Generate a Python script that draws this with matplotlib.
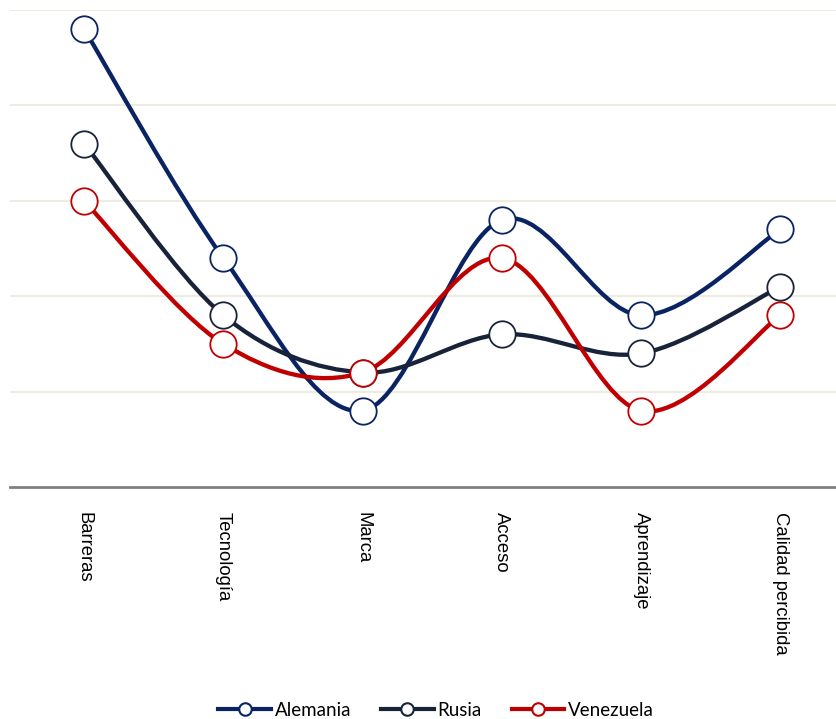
import matplotlib.pyplot as plt
import numpy as np
from matplotlib.path import Path
from matplotlib.patches import PathPatch
from matplotlib.lines import Line2D


# categories on the x axis
categorias = ['Barreras', 'Tecnología', 'Marca', 'Acceso', 'Aprendizaje', 'Calidad percibida']

# scores for each country
alemania = [4.8, 2.4, 0.8, 2.8, 1.8, 2.7]
rusia = [3.6, 1.8, 1.2, 1.6, 1.4, 2.1]
venezuela = [3.0, 1.5, 1.2, 2.4, 0.8, 1.8]

paises = ['Alemania', 'Rusia', 'Venezuela']
colores = ['#0A2463', '#18233A', '#C00000']


def smooth_path(xs, ys):
    # bezier curve through the points (same idea as the "smoothed line" in spreadsheets)
    pts = np.column_stack([xs, ys]).astype(float)
    n = len(pts)
    verts = [pts[0]]
    codes = [Path.MOVETO]
    for i in range(n - 1):
        p0 = pts[i - 1] if i > 0 else pts[i]
        p1 = pts[i]
        p2 = pts[i + 1]
        p3 = pts[i + 2] if i + 2 < n else pts[i + 1]
        c1 = p1 + (p2 - p0) / 6.0
        c2 = p2 - (p3 - p1) / 6.0
        verts += [c1, c2, p2]
        codes += [Path.CURVE4] * 3
    return Path(verts, codes)


fig = plt.figure(figsize=(8.36, 7.19), dpi=100)
ax = fig.add_axes([10 / 836, 232 / 719, 826 / 836, 477 / 719])

x = np.arange(len(categorias))
series = [alemania, rusia, venezuela]

for nombre, valores, color in zip(paises, series, colores):
    patch = PathPatch(smooth_path(x, valores), facecolor='none', edgecolor=color,
                      linewidth=3.1, capstyle='round', zorder=3)
    ax.add_patch(patch)
    ax.plot(x, valores, linestyle='none', marker='o', markersize=19,
            markerfacecolor='white', markeredgecolor=color, markeredgewidth=1.3, zorder=4)

ax.set_xlim(-0.532, 5.40)
ax.set_ylim(0, 5)

# light horizontal gridlines, no y labels
for yv in [1, 2, 3, 4, 5]:
    ax.axhline(yv, color='#EEECE1', linewidth=1.5, zorder=1)
ax.set_yticks([])

ax.set_xticks(x)
ax.set_xticklabels(categorias, rotation=-90, fontsize=13.3, family='Liberation Sans',
                   va='top', ha='center')
ax.tick_params(axis='x', length=0, pad=18)

for lado in ['top', 'right', 'left']:
    ax.spines[lado].set_visible(False)
ax.spines['bottom'].set_color('#808080')
ax.spines['bottom'].set_linewidth(2)

# legend below the chart
handles = [Line2D([0], [0], color=c, linewidth=3.0, marker='o', markersize=9,
                  markerfacecolor='white', markeredgecolor=c, markeredgewidth=1.5)
           for c in colores]
fig.legend(handles, paises, loc='center', bbox_to_anchor=(436 / 836, 1 - 710 / 719),
           ncol=3, frameon=False, prop={'family': 'Lato', 'size': 13.5},
           handlelength=2.8, handletextpad=0.2, columnspacing=1.6)

plt.savefig('out.png', dpi=100)
